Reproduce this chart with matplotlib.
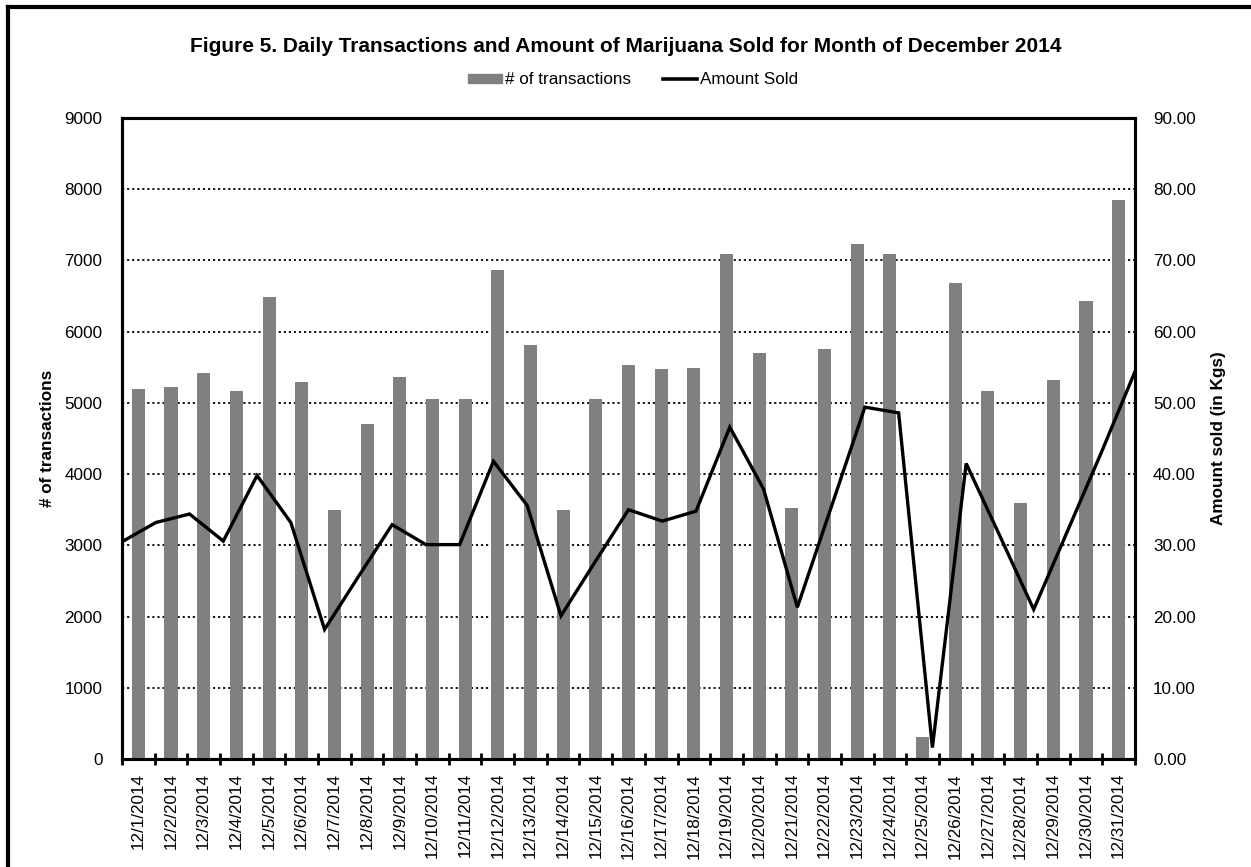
import numpy as np
import matplotlib.pyplot as plt
from matplotlib.lines import Line2D
from matplotlib.patches import Patch

plt.rcParams['font.family'] = ['Liberation Sans', 'DejaVu Sans']

days = [f"12/{d}/2014" for d in range(1, 32)]

# number of transactions (left axis)
transactions = [5195, 5230, 5420, 5165, 6485, 5290, 3500, 4710, 5365, 5060,
                5050, 6870, 5815, 3500, 5055, 5525, 5470, 5490, 7090, 5695,
                3520, 5760, 7235, 7085, 310, 6680, 5160, 3600, 5320, 6425,
                7855]

# amount sold in kgs (right axis)
amount_sold = [30.5, 33.2, 34.4, 30.6, 39.8, 33.2, 18.2, 25.6, 32.9, 30.1,
               30.1, 41.8, 35.6, 20.1, 27.6, 35.0, 33.4, 34.8, 46.6, 37.9,
               21.3, 35.3, 49.4, 48.6, 1.6, 41.5, 31.3, 21.0, 32.0, 43.0,
               54.4]

W, H = 1251, 867
fs = 12.3

fig = plt.figure(figsize=(W / 100, H / 100), dpi=100)
ax = fig.add_axes([122 / W, 1 - 759 / H, 1013 / W, 641 / H])
ax2 = ax.twinx()

n = len(days)
x = np.arange(n)
ax.bar(x, transactions, width=0.4, color='#808080', zorder=2)
ax.set_xlim(-0.5, n - 0.5)
ax.set_ylim(0, 9000)
ax.set_yticks(range(0, 9001, 1000))
ax.yaxis.grid(True, color='black', linestyle=(0, (1.2, 1.6)), linewidth=1.3, zorder=1)
ax.set_axisbelow(True)

# line runs edge to edge like the excel secondary axis
x_line = -0.5 + np.arange(n) * n / (n - 1)
ax2.plot(x_line, amount_sold, color='black', linewidth=2.4, solid_joinstyle='miter')
ax2.set_ylim(0, 90)
ax2.set_yticks(range(0, 91, 10))
ax2.set_yticklabels([f"{v:.2f}" for v in range(0, 91, 10)])

ax.set_xticks(x)
ax.set_xticklabels(days, rotation=90, fontsize=fs)
ax.set_xticks(np.arange(-0.5, n, 1), minor=True)
ax.tick_params(axis='x', which='major', length=0, pad=10)
ax.tick_params(axis='x', which='minor', direction='inout', length=8.5, width=2)
ax.tick_params(axis='y', length=0, labelsize=fs, pad=14)
ax2.tick_params(axis='y', length=0, labelsize=fs, pad=13)

for a in (ax, ax2):
    for s in a.spines.values():
        s.set_linewidth(2.2)

ax.set_ylabel("# of transactions", fontweight='bold', fontsize=fs, labelpad=7)
ax2.set_ylabel("Amount sold (in Kgs)", fontweight='bold', fontsize=fs, labelpad=11)

fig.text(0.5, 1 - 46 / H, "Figure 5. Daily Transactions and Amount of Marijuana Sold for Month of December 2014",
         ha='center', va='center', fontsize=15, fontweight='bold')

handles = [Patch(color='#808080'), Line2D([0], [0], color='black', linewidth=2.6)]
fig.legend(handles, ["# of transactions", "Amount Sold"], loc='center', bbox_to_anchor=(633 / W, 1 - 80 / H),
           ncol=2, frameon=False, fontsize=fs, handlelength=2.0, handleheight=0.45,
           handletextpad=0.15, columnspacing=1.9)

# frame only shows on the top and left (picture is cropped)
fig.add_artist(Line2D([8 / W, 1], [1 - 7 / H, 1 - 7 / H], transform=fig.transFigure,
                      color='black', linewidth=3, solid_capstyle='projecting'))
fig.add_artist(Line2D([8 / W, 8 / W], [0, 1 - 7 / H], transform=fig.transFigure,
                      color='black', linewidth=3, solid_capstyle='projecting'))

fig.savefig("out.png", dpi=100)
